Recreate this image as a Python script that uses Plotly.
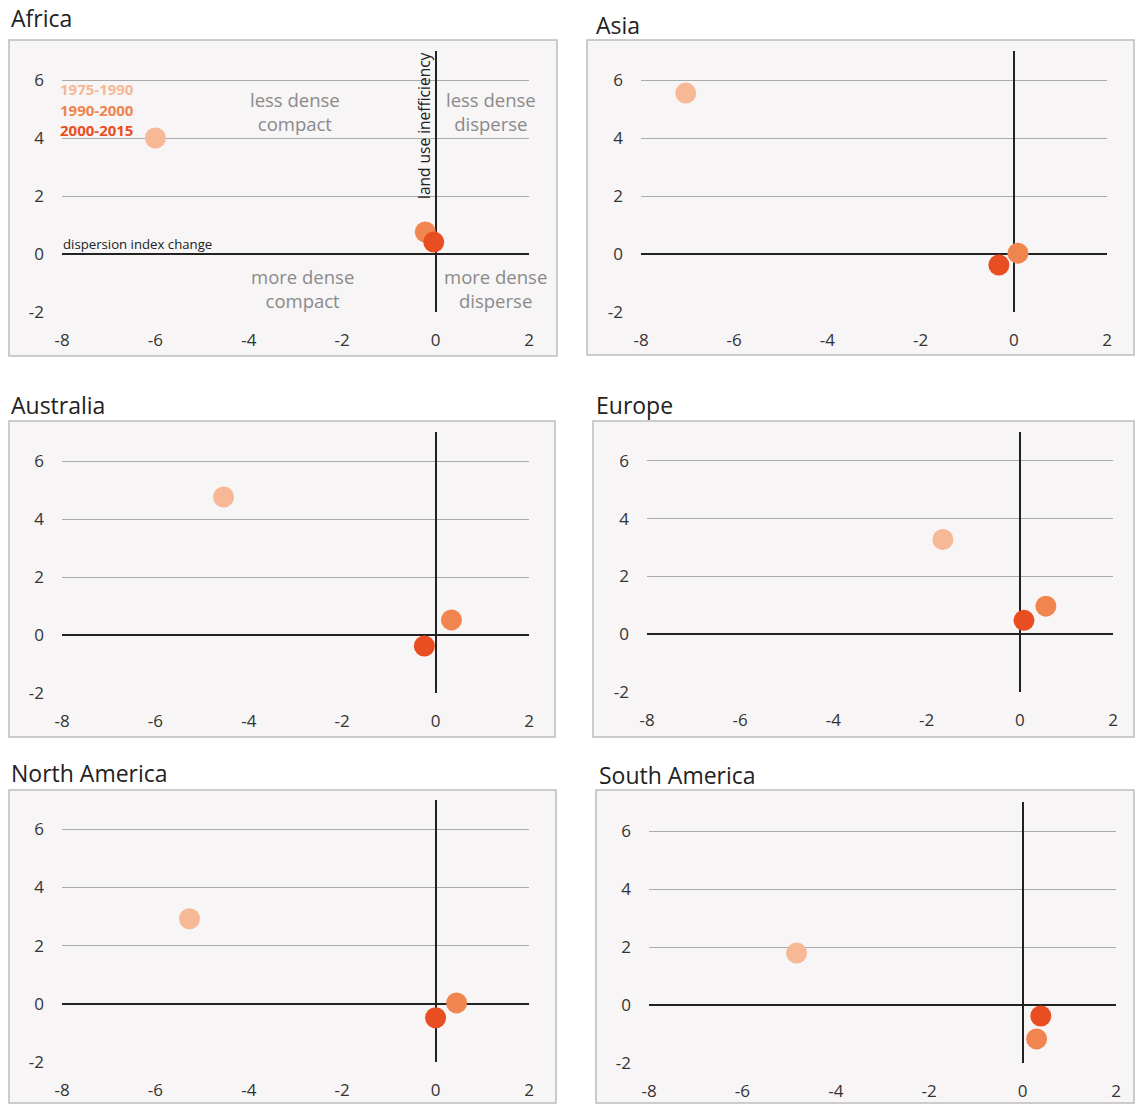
import plotly.graph_objects as go

W, H = 1135, 1104

regions = ["Africa", "Asia", "Australia", "Europe", "North America", "South America"]
periods = ["1975-1990", "1990-2000", "2000-2015"]
colors = ["#f7b896", "#f08550", "#e94e23"]

# dispersion index change (x) and land use inefficiency (y), per period
x_1975 = [-6.0, -7.04, -4.54, -1.65, -5.27, -4.84]
y_1975 = [4.0, 5.55, 4.76, 3.28, 2.92, 1.79]
x_1990 = [-0.22, 0.09, 0.34, 0.56, 0.45, 0.30]
y_1990 = [0.76, 0.03, 0.52, 0.97, 0.03, -1.17]
x_2000 = [-0.04, -0.32, -0.24, 0.09, 0.0, 0.39]
y_2000 = [0.41, -0.38, -0.38, 0.48, -0.48, -0.38]

xs = [x_1975, x_1990, x_2000]
ys = [y_1975, y_1990, y_2000]

x_ticks = [-8, -6, -4, -2, 0, 2]
x_tick_labels = ["-8", "-6", "-4", "-2", "0", "2"]
y_ticks = [-2, 0, 2, 4, 6]
y_tick_labels = ["-2", "0", "2", "4", "6"]
x_range = [-8, 2]
y_range = [-2, 7]

# layout geometry (pixels)
plots = [
    (62, 529, 51, 312),
    (641, 1107, 51, 312),
    (62, 529, 432, 693),
    (647, 1113, 432, 692),
    (62, 529, 800, 1062),
    (649, 1116, 802, 1063),
]
boxes = [
    (9, 557, 40, 356),
    (587, 1134, 40, 355),
    (9, 555, 421, 737),
    (593, 1134, 421, 737),
    (9, 556, 790, 1103),
    (596, 1134, 790, 1103),
]
titles_pos = [(9, 18), (594, 25), (9, 405), (594, 405), (9, 773), (597, 775)]


def px(x):
    return x / W


def py(y):
    return 1 - y / H


FONT = "Open Sans"
fig = go.Figure()
shapes = []
annotations = []

for i, reg in enumerate(regions):
    n = i + 1
    xa = "x" if n == 1 else f"x{n}"
    ya = "y" if n == 1 else f"y{n}"
    xl, xr, yt, yb = plots[i]
    for k in range(3):
        fig.add_trace(go.Scatter(
            x=[xs[k][i]], y=[ys[k][i]], mode="markers",
            marker=dict(size=21, color=colors[k]),
            name=periods[k], showlegend=False,
            xaxis=xa, yaxis=ya))
    fig.layout[f"xaxis{'' if n == 1 else n}"] = dict(
        domain=[px(xl), px(xr)], anchor=ya, range=x_range,
        tickvals=x_ticks, ticktext=x_tick_labels, showgrid=False,
        showline=False, zeroline=True, zerolinecolor="#222",
        zerolinewidth=2, fixedrange=True, automargin=False,
        ticks="", ticklabelstandoff=16,
        tickfont=dict(family=FONT, size=17, color="#333"))
    fig.layout[f"yaxis{'' if n == 1 else n}"] = dict(
        domain=[py(yb), py(yt)], anchor=xa, range=y_range,
        tickvals=y_ticks, ticktext=y_tick_labels,
        showgrid=True, gridcolor="#aaaaaa", gridwidth=1,
        zeroline=True, zerolinecolor="#222", zerolinewidth=2,
        showline=False, ticks="", ticklabelstandoff=17, automargin=False,
        tickfont=dict(family=FONT, size=17, color="#333"), fixedrange=True)
    # overlay axis for tick marks along the zero line
    m = n + 6
    zero_pos = py(yb) + (0 - y_range[0]) / (y_range[1] - y_range[0]) * (py(yt) - py(yb))
    fig.layout[f"xaxis{m}"] = dict(
        overlaying=xa, anchor="free", position=zero_pos, side="bottom",
        range=x_range, tickvals=x_ticks, ticks="outside", ticklen=6,
        tickwidth=2, tickcolor="#222", showticklabels=False, showgrid=False,
        zeroline=False, showline=False, fixedrange=True, automargin=False)

    bx0, bx1, by0, by1 = boxes[i]
    shapes.append(dict(type="rect", xref="paper", yref="paper",
                       x0=px(bx0), x1=px(bx1), y0=py(by1), y1=py(by0),
                       fillcolor="#f7f5f5", line=dict(color="#bdbdbd", width=1.5),
                       layer="below"))
    tx, ty = titles_pos[i]
    annotations.append(dict(text=reg, xref="paper", yref="paper",
                            x=px(tx), y=py(ty), xanchor="left", yanchor="middle",
                            showarrow=False,
                            font=dict(family=FONT, size=23, color="#222")))

# Africa annotations: legend
leg_y = [89, 109.5, 130]
for k in range(3):
    annotations.append(dict(text=f"<b>{periods[k]}</b>", xref="paper", yref="paper",
                            x=px(59), y=py(leg_y[k]), xanchor="left", yanchor="middle",
                            showarrow=False, borderpad=0,
                            font=dict(family=FONT, size=15, color=colors[k])))

quad = [
    ("less dense<br>compact", 295, 111),
    ("less dense<br>disperse", 491, 111),
    ("more dense<br>compact", 302, 288),
    ("more dense<br>disperse", 495, 288),
]
for t, qx, qy in quad:
    annotations.append(dict(text=t, xref="paper", yref="paper", x=px(qx), y=py(qy),
                            xanchor="center", yanchor="middle", showarrow=False,
                            font=dict(family=FONT, size=18.5, color="#8a8a8a")))

annotations.append(dict(text="dispersion index change", xref="paper", yref="paper",
                        x=px(61), y=py(244), xanchor="left", yanchor="middle",
                        showarrow=False, font=dict(family=FONT, size=13.2, color="#222")))
annotations.append(dict(text="land use inefficiency", xref="paper", yref="paper",
                        x=px(424), y=py(126), xanchor="center", yanchor="middle",
                        textangle=-90, showarrow=False,
                        font=dict(family=FONT, size=15.5, color="#222")))

fig.update_layout(autosize=True, margin=dict(l=0, r=0, t=0, b=0),
                  paper_bgcolor="white", plot_bgcolor="rgba(0,0,0,0)",
                  shapes=shapes, annotations=annotations, showlegend=False,
                  font=dict(family=FONT))
fig.write_html("out.html", default_width="100%", default_height="100%",
               config={"responsive": True, "displayModeBar": False})

# remove default page margins so the figure fills the window exactly
with open("out.html", "r", encoding="utf-8") as f:
    html = f.read()
html = html.replace(
    "<head>",
    "<head><style>html,body{margin:0;padding:0;overflow:hidden;width:100%;height:100%;}</style>",
    1)
with open("out.html", "w", encoding="utf-8") as f:
    f.write(html)
